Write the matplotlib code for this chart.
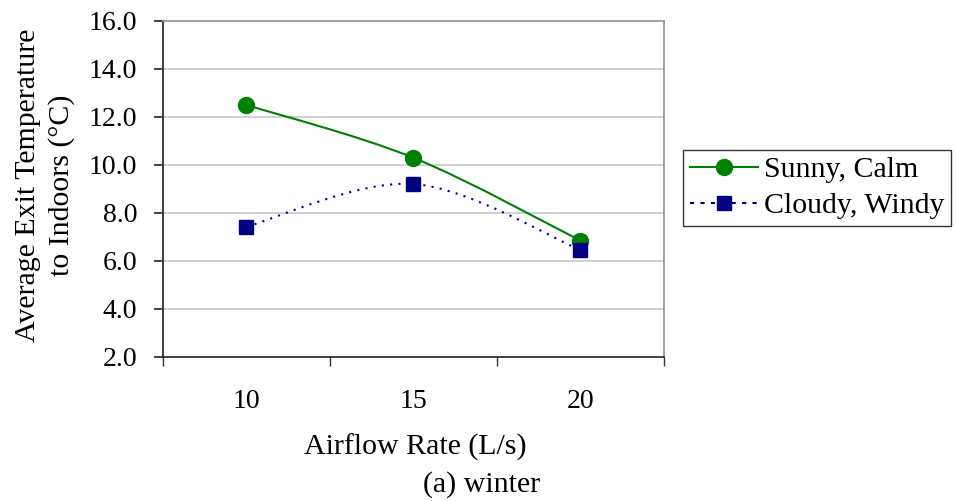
import matplotlib

matplotlib.use("Agg")
import matplotlib.pyplot as plt
from matplotlib.path import Path
from matplotlib.patches import PathPatch
from matplotlib.lines import Line2D
import numpy as np

airflow = ["10", "15", "20"]
sunny_calm = [12.5, 10.3, 6.85]
cloudy_windy = [7.43, 9.21, 6.46]
y_ticks = [2.0, 4.0, 6.0, 8.0, 10.0, 12.0, 14.0, 16.0]

GREEN = "#008000"
NAVY = "#000080"

plt.rcParams["font.family"] = ["Liberation Serif", "DejaVu Serif"]


def smooth_path(xs, ys):
    # Excel-style smoothed line: cubic Bezier segments, control points from neighbours
    xs = np.asarray(xs, float)
    ys = np.asarray(ys, float)
    n = len(xs)
    verts = [(xs[0], ys[0])]
    codes = [Path.MOVETO]
    for i in range(n - 1):
        p0 = (xs[max(i - 1, 0)], ys[max(i - 1, 0)])
        p1 = (xs[i], ys[i])
        p2 = (xs[i + 1], ys[i + 1])
        p3 = (xs[min(i + 2, n - 1)], ys[min(i + 2, n - 1)])
        c1 = (p1[0] + (p2[0] - p0[0]) / 6, p1[1] + (p2[1] - p0[1]) / 6)
        c2 = (p2[0] - (p3[0] - p1[0]) / 6, p2[1] - (p3[1] - p1[1]) / 6)
        verts += [c1, c2, p2]
        codes += [Path.CURVE4] * 3
    return Path(verts, codes)


fig = plt.figure(figsize=(9.56, 5.01), dpi=100)
ax = fig.add_axes([163 / 956, 1 - 357 / 501, (664 - 163) / 956, (357 - 21) / 501])

x = np.arange(len(airflow))
ax.set_xlim(-0.5, len(airflow) - 0.5)
ax.set_ylim(2.0, 16.0)

for yv in y_ticks[1:-1]:
    ax.axhline(yv, color="#c8c8c8", linewidth=1.2, zorder=0)

ax.add_patch(PathPatch(smooth_path(x, sunny_calm), facecolor="none", edgecolor=GREEN,
                       linewidth=1.5, zorder=2))
ax.add_patch(PathPatch(smooth_path(x, cloudy_windy), facecolor="none", edgecolor=NAVY,
                       linewidth=1.5, linestyle=(0, (1, 3)), zorder=2))
ax.plot(x, sunny_calm, linestyle="none", marker="o", markersize=11.5, color=GREEN, zorder=3)
ax.plot(x, cloudy_windy, linestyle="none", marker="s", markersize=10, color=NAVY, zorder=4)

ax.set_yticks(y_ticks)
ax.set_yticklabels([f"{v:.1f}" for v in y_ticks], fontsize=20)
ax.set_xticks(x)
ax.set_xticklabels(airflow, fontsize=20)
ax.set_xticks(np.arange(len(airflow) + 1) - 0.5, minor=True)
ax.tick_params(axis="x", which="major", length=0, pad=23)
ax.tick_params(axis="x", which="minor", length=6.5, width=1, color="#333333")
ax.tick_params(axis="y", length=6.5, width=1.2, color="#222222", pad=12)

ax.spines["left"].set_color("#444444")
ax.spines["left"].set_linewidth(1.5)
ax.spines["bottom"].set_color("#222222")
ax.spines["bottom"].set_linewidth(1.2)
for side in ("top", "right"):
    ax.spines[side].set_color("#909090")
    ax.spines[side].set_linewidth(1.2)

ax.set_xlabel("Airflow Rate (L/s)", fontsize=21.5, va="center")
ax.xaxis.set_label_coords((415 - 163) / 501, (357 - 447) / 336)
ax.set_ylabel("Average Exit Temperature\nto Indoors (°C)", fontsize=21.5, va="center",
              linespacing=1.3)
ax.yaxis.set_label_coords((45 - 163) / 501, (357 - 185) / 336)

handles = [
    Line2D([], [], color=GREEN, linewidth=1.5, marker="o", markersize=11.5),
    Line2D([], [], color=NAVY, linewidth=1.5, linestyle=(0, (2, 3)), marker="s", markersize=10),
]
leg = fig.legend(handles, ["Sunny, Calm", "Cloudy, Windy"], loc="upper left",
                 bbox_to_anchor=(683 / 956, 1 - 150 / 501), fontsize=21.5, frameon=True,
                 fancybox=False, edgecolor="black", handlelength=2.3, handletextpad=0.2,
                 borderpad=0.22, labelspacing=0.3, borderaxespad=0)
leg.get_frame().set_linewidth(1.0)

fig.text(482 / 956, 1 - 485 / 501, "(a) winter", fontsize=21.5, ha="center", va="center")

fig.savefig("out.png", dpi=100)
